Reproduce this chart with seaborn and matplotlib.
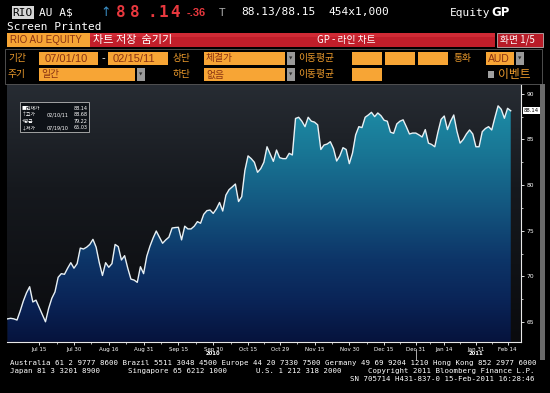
import numpy as np
import pandas as pd
import matplotlib
matplotlib.use("Agg")
import matplotlib.pyplot as plt
import seaborn as sns
from matplotlib.patches import Rectangle, PathPatch
from matplotlib.path import Path
from matplotlib.colors import LinearSegmentedColormap

# ---------------- data ----------------
start_date, end_date = "2010-07-01", "2011-02-15"
market_holidays = ["2010-12-27", "2010-12-28", "2011-01-03", "2011-01-26"]

jul = [65.35, 65.41, 65.35, 65.22, 66.2, 67.3, 68.2, 68.87, 67.2, 67.4, 66.6, 65.8, 65.03,
       66.5, 67.6, 68.3, 69.9, 70.3, 70.23, 70.9, 71.5, 70.9]
aug = [71.4, 73.1, 73.0, 73.2, 73.5, 74.06, 73.2, 71.5, 70.1, 71.5, 71.0, 71.4, 73.5, 73.26,
       71.8, 72.27, 70.9, 69.7, 69.6, 69.35, 71.06, 70.3]
sep = [72.2, 73.3, 74.2, 74.97, 74.3, 73.63, 74.0, 74.3, 75.3, 75.35, 75.38, 74.0, 75.5, 75.2,
       75.2, 75.5, 76.0, 75.82, 76.8, 77.2, 77.27, 76.9]
oct_ = [77.4, 78.1, 77.16, 78.9, 79.5, 79.8, 80.12, 78.2, 78.73, 81.6, 83.2, 82.9, 82.5, 81.4,
        81.8, 82.5, 84.2, 83.4, 82.6, 83.84, 83.0]
nov = [82.9, 82.9, 83.48, 83.3, 87.3, 87.43, 87.0, 86.4, 87.43, 87.0, 86.9, 86.6, 83.9, 84.39,
       84.5, 84.75, 84.0, 82.64, 83.2, 84.1, 83.9, 82.35]
dec = [83.5, 85.5, 86.4, 86.3, 87.43, 87.68, 87.97, 87.5, 87.9, 87.6, 87.1, 87.0, 85.8, 85.67,
       86.7, 87.0, 87.15, 86.4, 85.6, 85.7, 85.7]
jan = [85.5, 85.27, 86.08, 84.6, 84.45, 84.2, 85.8, 87.2, 87.57, 86.08, 87.0, 87.68, 85.9, 84.6,
       85.0, 85.6, 86.04, 85.6, 84.2]
feb = [84.2, 85.85, 86.2, 86.4, 86.04, 87.4, 88.68, 88.3, 87.32, 88.41, 88.14]

tick_dates = ["2010-07-15", "2010-07-30", "2010-08-16", "2010-08-31", "2010-09-15", "2010-09-30",
              "2010-10-15", "2010-10-29", "2010-11-15", "2010-11-30", "2010-12-15", "2010-12-31",
              "2011-01-14", "2011-01-31", "2011-02-14"]
tick_labels = ["Jul 15", "Jul 30", "Aug 16", "Aug 31", "Sep 15", "Sep 30", "Oct 15", "Oct 29",
               "Nov 15", "Nov 30", "Dec 15", "Dec 31", "Jan 14", "Jan 31", "Feb 14"]
year_labels = ["2010", "2011"]
year_label_dates = ["2010-09-30", "2011-01-31"]
year_break_date = "2010-12-31"
y_ticks = [65, 70, 75, 80, 85, 90]
y_minor = [67.5, 72.5, 77.5, 82.5, 87.5]

legend_names = ["■현재가", "↑고가", "+평균", "↓저가"]
legend_dates = ["", "02/10/11", "", "07/19/10"]
legend_values = ["88.14", "88.68", "79.22", "65.03"]
last_value = "88.14"

# ---------------- build frame ----------------
dates = pd.bdate_range(start_date, end_date)
dates = dates[~dates.isin(pd.to_datetime(market_holidays))]
prices = jul + aug + sep + oct_ + nov + dec + jan + feb
assert len(prices) == len(dates)
df = pd.DataFrame({"date": dates, "price": prices})
df["pos"] = np.arange(len(df))
pos_of = {d: i for i, d in enumerate(df["date"])}

W, H = 550, 393
fig = plt.figure(figsize=(W / 100, H / 100), dpi=100, facecolor="black")

KR = ["Noto Sans CJK KR", "DejaVu Sans"]
MONO = "DejaVu Sans Mono"
SANS = "Liberation Sans"
ORANGE_TXT = "#eb9a2c"
BOX = "#f7a535"
BOX_TXT = "#8a3212"


def rect(x, y, w, h, fc, ec="none", lw=0.0, z=1):
    fig.add_artist(Rectangle((x / W, 1 - (y + h) / H), w / W, h / H, transform=fig.transFigure,
                             facecolor=fc, edgecolor=ec, linewidth=lw, zorder=z))


def txt(x, y, s, ha="left", **kw):
    fig.text(x / W, 1 - y / H, s, va="center", ha=ha, **kw)


# ---------------- header ----------------
rect(12, 6, 22, 13, "#d6d6d6")
txt(12.5, 12.5, "RIO", family=MONO, fontsize=8, color="black")
txt(39, 12.5, "AU A$", family=MONO, fontsize=8, color="white")
txt(100, 12.5, "↑", family="DejaVu Sans", fontsize=9, color="#3a90c8")
for ch, cx in zip("88.14", [121, 134.5, 152, 163, 175]):
    txt(cx, 12.5, ch, ha="center", family=MONO, fontsize=11.5, fontweight="bold", color="#e8383e")
txt(187, 13, "-.36", family=SANS, fontsize=8, fontweight="bold", color="#e8383e")
txt(219, 12.5, "T", family=MONO, fontsize=8, color="#a8a8a8")
txt(241, 12.5, "88.13/88.15", family=MONO, fontsize=8, color="white")
txt(328, 12.5, "454x1,000", family=MONO, fontsize=8, color="white")
txt(450, 12.5, "Equity", family=MONO, fontsize=8, color="white")
txt(491, 12.5, "GP", family="DejaVu Sans", fontsize=8.5, fontweight="bold", color="white")
txt(7, 27, "Screen Printed", family=MONO, fontsize=8, color="white")

# row 3 bar
rect(7, 33, 83, 14, BOX)
txt(9.5, 40, "RIO AU EQUITY", family=SANS, fontsize=7, color=BOX_TXT)
rect(90, 33, 405, 14, "#c11e2a")
rect(90, 33, 405, 4, "#d02a35")
txt(93, 40, "차트 저장  숨기기", family=KR, fontsize=8, color="white")
txt(346, 40, "GP - 라인 차트", ha="center", family=KR, fontsize=7, color="white")
rect(497, 33, 46, 14, "#b81c28", ec="#d0d0d0", lw=0.5)
txt(500, 40, "화면 1/5", family=KR, fontsize=7, color="white")

# rows 4-5 frame
rect(5, 49, 537, 35, "black", ec="#5a5a5a", lw=0.6, z=0.5)


def dropdown(x, y):
    rect(x, y, 8, 12, "#9a9a9a")
    txt(x + 4, y + 6, "▼", ha="center", family="DejaVu Sans", fontsize=3.2, color="#303030")


r4, r5 = 58.5, 74.5
txt(8, r4, "기간", family=KR, fontsize=7, color=ORANGE_TXT)
rect(39, 52.5, 59, 12.5, BOX)
txt(45, r4, "07/01/10", family=SANS, fontsize=8, color=BOX_TXT)
txt(101, r4, "-", family=SANS, fontsize=8, color="white")
rect(108, 52.5, 60, 12.5, BOX)
txt(113, r4, "02/15/11", family=SANS, fontsize=8, color=BOX_TXT)
txt(173, r4, "상단", family=KR, fontsize=7, color=ORANGE_TXT)
rect(204, 52.5, 81, 12.5, BOX)
txt(206, r4, "체결가", family=KR, fontsize=7, color=BOX_TXT)
dropdown(287, 52.5)
txt(298, r4, "이동평균", family=KR, fontsize=7, color=ORANGE_TXT)
for bx in (352, 385, 418):
    rect(bx, 52.5, 30, 12.5, BOX)
txt(453, r4, "통화", family=KR, fontsize=7, color=ORANGE_TXT)
rect(486, 52.5, 28, 12.5, BOX)
txt(488, r4, "AUD", family=SANS, fontsize=7.5, color=BOX_TXT)
dropdown(516, 52.5)

txt(8, r5, "주기", family=KR, fontsize=7, color=ORANGE_TXT)
rect(39, 68.5, 96, 12.5, BOX)
txt(41, r5, "일간", family=KR, fontsize=7, color=BOX_TXT)
dropdown(137, 68.5)
txt(173, r5, "하단", family=KR, fontsize=7, color=ORANGE_TXT)
rect(204, 68.5, 81, 12.5, BOX)
txt(206, r5, "없음", family=KR, fontsize=7, color=BOX_TXT)
dropdown(287, 68.5)
txt(298, r5, "이동평균", family=KR, fontsize=7, color=ORANGE_TXT)
rect(352, 68.5, 30, 12.5, BOX)
rect(488, 71.5, 6, 6, "#a0a0a0")
txt(498, r5, "이벤트", family=KR, fontsize=8.5, color=ORANGE_TXT)

# ---------------- chart ----------------
px_per_day = 3.165
x0_px, xr_px = 7.5, 521.0
ax_left_px, ax_top_px, ax_bot_px = 7.0, 84.0, 341.7
ax = fig.add_axes([ax_left_px / W, 1 - ax_bot_px / H, (xr_px - ax_left_px) / W,
                   (ax_bot_px - ax_top_px) / H])
xmin = -(x0_px - ax_left_px) / px_per_day
xmax = (xr_px - x0_px) / px_per_day
v_per_px = 1 / 9.13
ymax = 90 + (93.8 - ax_top_px) * v_per_px
ymin = 90 - (ax_bot_px - 93.8) * v_per_px
ax.set_xlim(xmin, xmax)
ax.set_ylim(ymin, ymax)
ax.set_facecolor("black")

# background gradient
bg_cmap = LinearSegmentedColormap.from_list("bg", [(0, "#0a0b0e"), (0.6, "#16191e"), (1, "#272c33")])
grad = np.linspace(0, 1, 256).reshape(-1, 1)
ax.imshow(grad, extent=[xmin, xmax, ymin, ymax], origin="lower", aspect="auto",
          cmap=bg_cmap, zorder=0)

# gradient fill under the line
fill_cmap = LinearSegmentedColormap.from_list(
    "fill", [(0, "#06133d"), (0.16, "#0a2457"), (0.32, "#0d3568"), (0.55, "#145a82"),
             (0.75, "#197896"), (1, "#2096ae")])
verts = [(df["pos"].iloc[0], ymin)] + list(zip(df["pos"], df["price"])) + [(df["pos"].iloc[-1], ymin)]
patch = PathPatch(Path(verts), transform=ax.transData, facecolor="none", edgecolor="none")
ax.add_patch(patch)
im = ax.imshow(grad, extent=[xmin, xmax, ymin, ymax], origin="lower", aspect="auto",
               cmap=fill_cmap, zorder=1)
im.set_clip_path(patch)

sns.lineplot(data=df, x="pos", y="price", ax=ax, color="#e8f0f4", linewidth=1.0, zorder=3)

# axes styling
for s in ("top", "left"):
    ax.spines[s].set_visible(False)
for s in ("bottom", "right"):
    ax.spines[s].set_color("#e8e8e8")
    ax.spines[s].set_linewidth(0.8)
ax.set_xlabel("")
ax.set_ylabel("")
ax.yaxis.tick_right()
ax.set_yticks(y_ticks)
ax.set_yticklabels([str(v) for v in y_ticks])
ax.set_yticks(y_minor, minor=True)
tick_pos = [pos_of[pd.Timestamp(d)] for d in tick_dates]
ax.set_xticks(tick_pos)
ax.set_xticklabels(tick_labels)
mids = [(a + b) / 2 for a, b in zip(tick_pos[:-1], tick_pos[1:])]
ax.set_xticks(mids, minor=True)
ax.tick_params(axis="both", which="major", colors="white", length=2.2, width=0.6,
               labelsize=4.0, pad=1.5, direction="out")
ax.tick_params(axis="both", which="minor", colors="white", length=1.5, width=0.5)
ax.tick_params(axis="y", labelsize=4.3, pad=1.5)

tr = ax.get_xaxis_transform()
for lab, d in zip(year_labels, year_label_dates):
    ax.text(pos_of[pd.Timestamp(d)], -0.046, lab, transform=tr, ha="center", va="center",
            fontsize=3.8, color="white", fontweight="bold")
yb = pos_of[pd.Timestamp(year_break_date)]
ax.plot([yb, yb], [-0.03, -0.07], transform=tr, color="#c8c8c8", lw=0.6, clip_on=False)

ax.text(1.006, float(df["price"].iloc[-1]), last_value, transform=ax.get_yaxis_transform(),
        ha="left", va="center", fontsize=3.8, color="black",
        bbox=dict(boxstyle="square,pad=0.15", fc="white", ec="none"))

# legend box
rect(20, 102, 69, 30, "#0e1217", ec="#b8b8b8", lw=0.6, z=5)
for k, (nm, dt, val) in enumerate(zip(legend_names, legend_dates, legend_values)):
    yy = 108 + k * 6.6
    fig.text(22 / W, 1 - yy / H, nm, family=KR, fontsize=3.5, color="white", va="center", zorder=6)
    if dt:
        fig.text(47 / W, 1 - yy / H, dt, family="DejaVu Sans", fontsize=3.5, color="white",
                 va="center", zorder=6)
    fig.text(88 / W, 1 - yy / H, val, family="DejaVu Sans", fontsize=3.5, color="white",
             va="center", ha="right", zorder=6)

# scrollbar at right
rect(539.5, 84, 5.5, 276, "#6a6a6a")

# ---------------- footer ----------------
FS = 5.35
txt(10, 363, "Australia 61 2 9777 8600 Brazil 5511 3048 4500 Europe 44 20 7330 7500 "
    "Germany 49 69 9204 1210 Hong Kong 852 2977 6000", family=MONO, fontsize=FS, color="white")
txt(10, 371, "Japan 81 3 3201 8900", family=MONO, fontsize=FS, color="white")
txt(127.5, 371, "Singapore 65 6212 1000", family=MONO, fontsize=FS, color="white")
txt(256.5, 371, "U.S. 1 212 318 2000", family=MONO, fontsize=FS, color="white")
txt(535, 371, "Copyright 2011 Bloomberg Finance L.P.", ha="right", family=MONO, fontsize=FS,
    color="white")
txt(535, 379, "SN 705714 H431-837-0 15-Feb-2011 16:28:46", ha="right", family=MONO,
    fontsize=FS, color="white")

fig.savefig("out.png", dpi=100, facecolor="black")
